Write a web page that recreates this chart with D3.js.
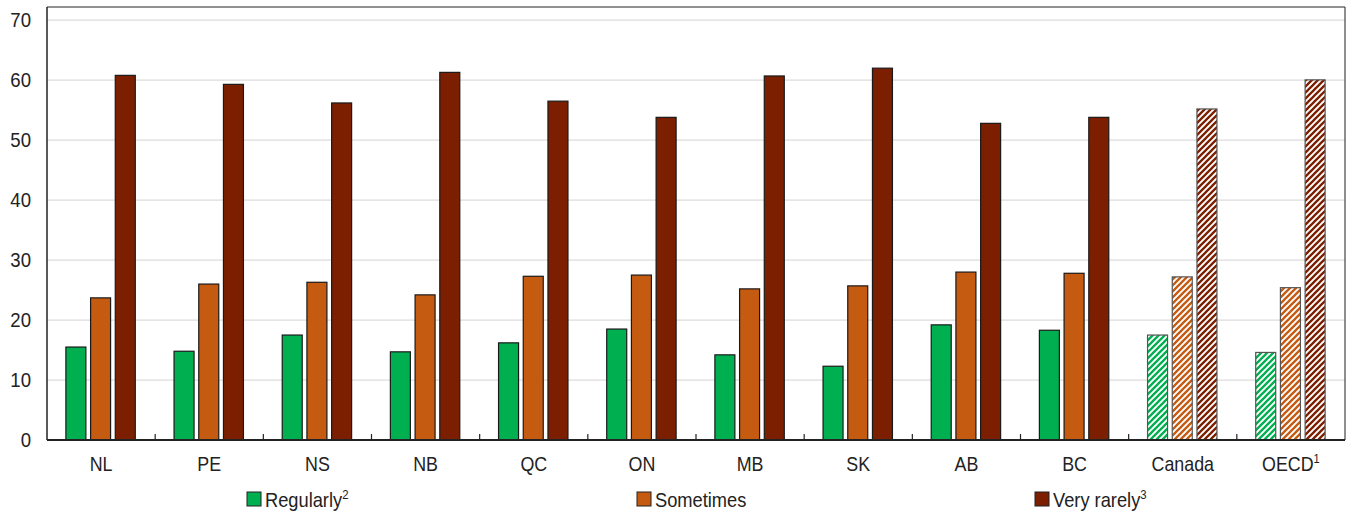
<!DOCTYPE html>
<html><head><meta charset="utf-8">
<script src="https://cdn.jsdelivr.net/npm/d3@7"></script>
<style>
body{margin:0;background:#fff;}
text{font-family:"Liberation Sans",Arial,sans-serif;fill:#222;}
</style></head><body>
<svg id="c" width="1348" height="513"></svg>
<script>
const categories = ["NL","PE","NS","NB","QC","ON","MB","SK","AB","BC","Canada","OECD"];
const categorySup = ["","","","","","","","","","","","1"];
const regularly = [15.5,14.8,17.5,14.7,16.2,18.5,14.2,12.3,19.2,18.3,17.5,14.6];
const sometimes = [23.7,26.0,26.3,24.2,27.3,27.5,25.2,25.7,28.0,27.8,27.2,25.4];
const veryRarely = [60.8,59.3,56.2,61.3,56.5,53.8,60.7,62.0,52.8,53.8,55.2,60.05];
const seriesNames = ["Regularly","Sometimes","Very rarely"];
const seriesSup = ["2","","3"];
const hatched = ["Canada","OECD"];
const yTicks = [0,10,20,30,40,50,60,70];

const colors = ["#00AF50","#C55A11","#7B1F00"];
const series = [regularly, sometimes, veryRarely];

const svg = d3.select("#c");
const L = 47, R = 1345, T = 7, B = 440;
const x = d3.scaleBand().domain(categories).range([L, R]).paddingInner(0).paddingOuter(0);
const y = d3.scaleLinear().domain([0, 72.2]).range([B, T]);

// patterns
const defs = svg.append("defs");
colors.forEach((c,i)=>{
  const p = defs.append("pattern").attr("id","h"+i).attr("patternUnits","userSpaceOnUse")
    .attr("width",6).attr("height",6);
  p.append("rect").attr("width",6).attr("height",6).attr("fill","#fff");
  p.append("path").attr("d","M-1.5,1.5 L1.5,-1.5 M0,6 L6,0 M4.5,7.5 L7.5,4.5")
    .attr("stroke",c).attr("stroke-width",2.3);
});

// gridlines
svg.append("g").selectAll("line").data(yTicks.filter(d=>d>0)).join("line")
  .attr("x1",L).attr("x2",R).attr("y1",d=>y(d)).attr("y2",d=>y(d))
  .attr("stroke","#dcdcdc").attr("stroke-width",1.2);

// bars
const bw = 20, step = 24.7;
const g = svg.append("g");
categories.forEach((cat,ci)=>{
  const cx = x(cat) + x.bandwidth()/2 - 0.5;
  series.forEach((s,si)=>{
    const v = s[ci];
    const isH = hatched.includes(cat);
    g.append("rect")
      .attr("x", cx + (si-1)*step - bw/2)
      .attr("y", y(v))
      .attr("width", bw)
      .attr("height", y(0)-y(v))
      .attr("fill", isH ? `url(#h${si})` : colors[si])
      .attr("stroke", isH ? "#555" : "#1a1a1a")
      .attr("stroke-width", 1.2);
  });
});

// frame
svg.append("line").attr("x1",L).attr("x2",L).attr("y1",T).attr("y2",B).attr("stroke","#222").attr("stroke-width",1.5);
svg.append("line").attr("x1",L).attr("x2",R).attr("y1",T).attr("y2",T).attr("stroke","#222").attr("stroke-width",1.2);
svg.append("line").attr("x1",R).attr("x2",R).attr("y1",T).attr("y2",B).attr("stroke","#444").attr("stroke-width",1.2);

// condensed text helper
function ctext(parent, px, py, size, sx, anchor){
  return parent.append("text")
    .attr("transform",`translate(${px},${py}) scale(${sx},1)`)
    .attr("text-anchor",anchor).style("font-size",size+"px");
}

// y axis labels via scale ticks
const yl = svg.append("g");
y.ticks(7).forEach(t=>{
  ctext(yl, 31, y(t)+7, 20, 0.93, "end").text(d3.format("d")(t));
});

// x axis baseline and ticks
svg.append("line").attr("x1",L).attr("x2",R).attr("y1",B).attr("y2",B).attr("stroke","#222").attr("stroke-width",2);
svg.append("g").selectAll("line").data(categories.slice(1)).join("line")
  .attr("x1",d=>x(d)).attr("x2",d=>x(d)).attr("y1",B).attr("y2",B-6)
  .attr("stroke","#222").attr("stroke-width",1.2);

// x labels
const xg = svg.append("g");
categories.forEach((c,i)=>{
  const t = ctext(xg, x(c)+x.bandwidth()/2, 471, 21, 0.85, "middle");
  t.append("tspan").text(c);
  if (categorySup[i]) t.append("tspan").text(categorySup[i]).style("font-size","13px").attr("dy",-8);
});

// legend
const legX = [247, 637, 1035];
const leg = svg.append("g");
seriesNames.forEach((n,i)=>{
  leg.append("rect").attr("x",legX[i]).attr("y",492).attr("width",14).attr("height",14)
    .attr("fill",colors[i]).attr("stroke","#222").attr("stroke-width",1);
  const t = ctext(leg, legX[i]+18, 507, 21, 0.87, "start");
  t.append("tspan").text(n);
  if (seriesSup[i]) t.append("tspan").text(seriesSup[i]).style("font-size","13px").attr("dy",-8);
});
</script>
</body></html>
